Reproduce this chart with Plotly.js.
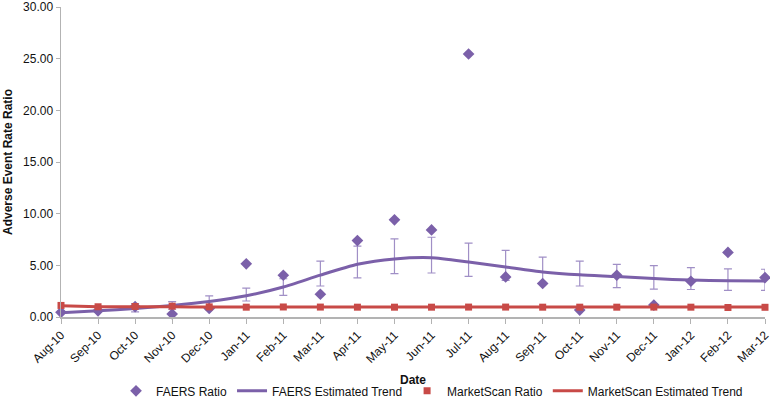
<!DOCTYPE html>
<html>
<head>
<meta charset="utf-8">
<script src="https://cdn.plot.ly/plotly-3.0.1.min.js"></script>
<style>html,body{margin:0;padding:0;background:#fff;overflow:hidden;}#chart{width:770px;height:406px;}</style>
</head>
<body>
<div id="chart"></div>
<script>
var months = ["Aug-10","Sep-10","Oct-10","Nov-10","Dec-10","Jan-11","Feb-11","Mar-11","Apr-11","May-11","Jun-11","Jul-11","Aug-11","Sep-11","Oct-11","Nov-11","Dec-11","Jan-12","Feb-12","Mar-12"];
var faersRatio = [0.45,0.6,1.0,0.29,0.83,5.15,4.04,2.2,7.4,9.4,8.43,25.45,3.88,3.24,0.67,4.04,1.15,3.46,6.25,3.82];
var faersTrend = [0.42,0.6,0.82,1.12,1.5,2.05,2.9,4.05,5.1,5.62,5.74,5.32,4.84,4.36,4.08,3.92,3.72,3.57,3.5,3.48];
var faersUpper = [0.5,0.75,1.3,1.48,2.05,2.8,3.7,5.41,6.86,7.57,7.72,7.15,6.44,5.8,5.41,5.1,4.97,4.78,4.65,4.62];
var faersLower = [0.35,0.5,0.5,0.75,1.0,1.55,2.1,3.0,3.78,4.2,4.26,3.94,3.55,3.2,3.0,2.85,2.69,2.66,2.57,2.57];
var msRatio = [1.12,0.99,1.02,1.05,0.98,0.95,0.97,0.96,0.95,0.95,0.95,0.96,0.96,0.95,0.95,0.95,0.96,0.95,0.92,0.94];
var msTrend = [1.08,1.0,0.99,0.98,0.97,0.96,0.96,0.96,0.96,0.96,0.96,0.96,0.96,0.96,0.96,0.96,0.96,0.96,0.96,0.96];

var purple = "#7b60a9";
var red = "#c84a47";
var errPlus = faersUpper.map(function(u,i){return u - faersTrend[i];});
var errMinus = faersLower.map(function(l,i){return faersTrend[i] - l;});

var traces = [
  {x: months, y: faersTrend, type: "scatter", mode: "lines", name: "FAERS Estimated Trend",
   legendrank: 2, line: {color: purple, width: 3, shape: "spline", smoothing: 0.6},
   error_y: {type: "data", symmetric: false, array: errPlus, arrayminus: errMinus,
             color: "#a08fc6", thickness: 1.2, width: 4}},
  {x: months, y: faersRatio, type: "scatter", mode: "markers", name: "FAERS Ratio",
   legendrank: 1, cliponaxis: false, marker: {symbol: "diamond", color: purple, size: 9}},
  {x: months, y: msTrend, type: "scatter", mode: "lines", name: "MarketScan Estimated Trend",
   legendrank: 4, line: {color: red, width: 3, shape: "spline", smoothing: 0.6}},
  {x: months, y: msRatio, type: "scatter", mode: "markers", name: "MarketScan Ratio",
   legendrank: 3, cliponaxis: false, marker: {symbol: "square", color: red, size: 7}}
];

var ff = "Liberation Sans, Arial, sans-serif";
var layout = {
  width: 770, height: 406,
  margin: {l: 61, r: 5, t: 7, b: 89, autoexpand: false},
  paper_bgcolor: "#fff", plot_bgcolor: "#fff",
  font: {family: ff, size: 12, color: "#111"},
  showlegend: true,
  legend: {orientation: "h", x: 0.527, xanchor: "center", y: -0.285, yanchor: "bottom",
           font: {family: ff, size: 12, color: "#111"},
           traceorder: "normal", itemwidth: 30},
  xaxis: {type: "category", range: [0, 19], automargin: false,
          tickangle: -45, ticks: "outside", ticklen: 5, tickcolor: "#b3b3b3",
          showline: true, linecolor: "#b3b3b3", linewidth: 1.5, showgrid: false, zeroline: false,
          tickfont: {family: ff, size: 12, color: "#111"},
          title: {text: "<b>Date</b>", font: {family: ff, size: 12, color: "#111"}, standoff: 10}},
  yaxis: {range: [0, 30], dtick: 5, tickformat: ".2f", automargin: false,
          ticklabeloverflow: "allow",
          ticks: "outside", ticklen: 4, tickcolor: "#b3b3b3",
          showline: true, linecolor: "#b3b3b3", linewidth: 1.5, showgrid: false, zeroline: false,
          tickfont: {family: ff, size: 12, color: "#111"},
          title: {text: "<b>Adverse Event Rate Ratio</b>", font: {family: ff, size: 12, color: "#111"}, standoff: 8}}
};

Plotly.newPlot("chart", traces, layout, {displayModeBar: false, staticPlot: true});
</script>
</body>
</html>
